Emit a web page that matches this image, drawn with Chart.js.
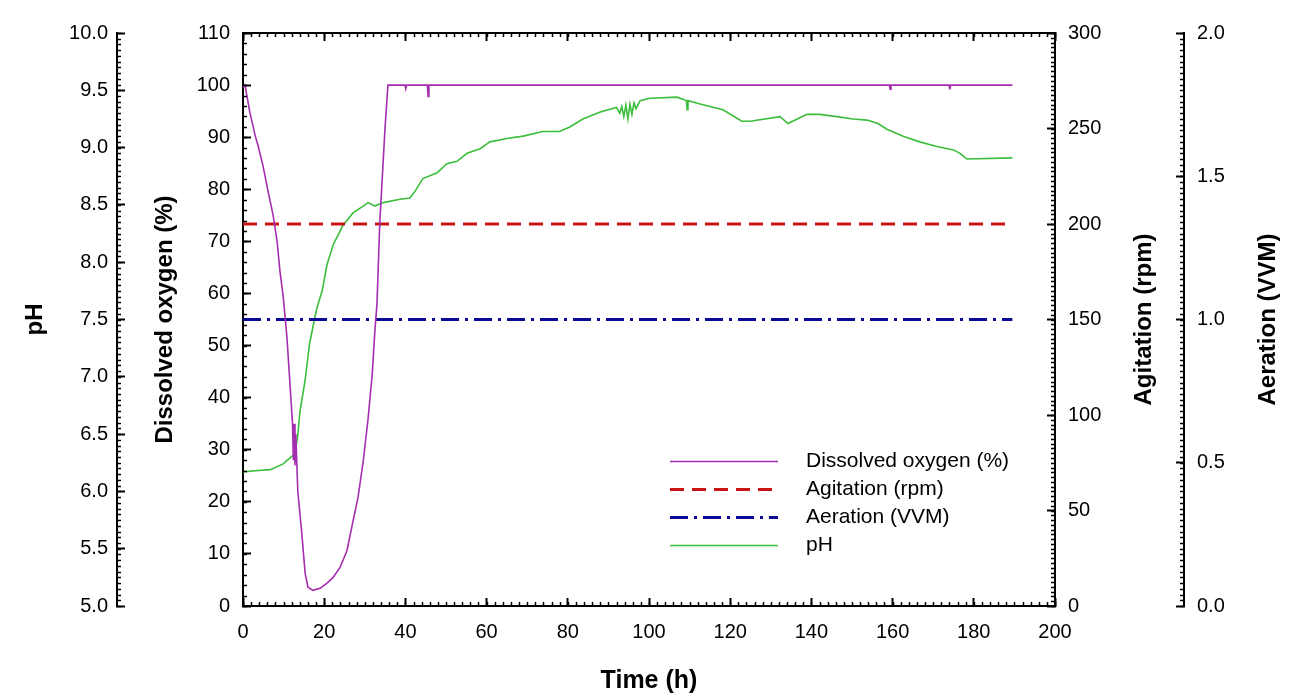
<!DOCTYPE html>
<html>
<head>
<meta charset="utf-8">
<script src="https://cdn.jsdelivr.net/npm/chart.js@4.4.1/dist/chart.umd.min.js"></script>
<style>
  html, body { margin: 0; padding: 0; background: #fff; }
  #myChart { display: block; }
</style>
</head>
<body>
<canvas id="myChart" width="1291" height="696"></canvas>
<script>
// dissolved oxygen (%)
const doTime = [0, 0.5, 1.7, 3, 3.7, 4.9, 6.2, 7.4, 8.4, 9.1, 9.9, 10.8, 11.6, 12.2, 12.4, 12.6, 12.8, 13.0, 13.5, 14.5,
  15.3, 16, 17.2, 19, 20.7, 22.2, 23.9, 25.6, 27.1, 28.3, 29.6, 30.8, 31.8, 32.5, 33, 33.7, 35, 35.7, 39.9, 40.1,
  40.3, 45.4, 45.6, 45.8, 159.2, 159.4, 159.6, 173.9, 174.1, 174.3, 189.5];
const doValues = [99.5, 100, 94.7, 90.3, 88.4, 84.6, 79.5, 75.1, 70, 64.3, 59.4, 51.8, 42.3, 35, 28, 35, 27, 33, 22, 13.8,
  6.3, 3.6, 3, 3.4, 4.4, 5.5, 7.4, 10.6, 16.3, 20.7, 27.7, 35.9, 44.2, 53, 58, 73.8, 92, 100, 100, 99.3,
  100, 100, 97.8, 100, 100, 99.2, 100, 100, 99.2, 100, 100];

// pH
const phTime = [0, 3, 6.7, 9.9, 11.5, 12.8, 13.5, 14, 15.3, 16.4, 17.6, 18.2, 19.5, 20.7, 22.2, 24.6, 27.1, 29.6, 30.8, 32.5,
  34.5, 38.7, 41.1, 42.4, 44.3, 47.8, 50.2, 52.7, 55.2, 58.4, 60.8, 65, 69, 73.9, 78, 80.5, 83.7, 88, 92, 92.8,
  93.3, 93.8, 94.3, 94.8, 95.3, 95.8, 96.3, 96.8, 97.8, 100.2, 106.9, 109.2, 109.4, 109.6, 112.6, 118.2, 122.9, 124.9, 132.3, 134.2,
  136.5, 138.9, 142, 146.3, 150.2, 153.7, 156.4, 158.6, 162.6, 166.7, 170.9, 175, 176.6, 178.3, 189.5];
const phValues = [6.17, 6.18, 6.19, 6.24, 6.29, 6.33, 6.49, 6.69, 6.97, 7.29, 7.5, 7.6, 7.75, 7.98, 8.15, 8.32, 8.43, 8.49, 8.52, 8.49,
  8.52, 8.55, 8.56, 8.62, 8.73, 8.78, 8.86, 8.88, 8.95, 8.99, 9.05, 9.08, 9.10, 9.14, 9.14, 9.18, 9.25, 9.31, 9.35, 9.30,
  9.36, 9.27, 9.37, 9.25, 9.38, 9.29, 9.39, 9.34, 9.41, 9.43, 9.44, 9.41, 9.33, 9.41, 9.38, 9.33, 9.23, 9.23, 9.27, 9.21,
  9.25, 9.29, 9.29, 9.27, 9.25, 9.24, 9.21, 9.16, 9.10, 9.05, 9.01, 8.98, 8.95, 8.90, 8.91];

// agitation (rpm) and aeration (VVM) are constant
const agitTime = [0, 189.5];
const agitValues = [200, 200];
const aerTime = [0, 189.5];
const aerValues = [1.0, 1.0];

const seriesNames = ['Dissolved oxygen (%)', 'Agitation (rpm)', 'Aeration (VVM)', 'pH'];

const fontFam = '"Liberation Sans", Arial, sans-serif';

function toPoints(xs, ys) {
  return xs.map((x, i) => ({ x: x, y: ys[i] }));
}

// small ticks between the labelled ones
const minorSteps = { x: 2, x2: 2, yDO: 2, yPH: 0.05, yAgit: 2.5, yAer: 0.02 };

const minorTicks = {
  id: 'minorTicks',
  afterDraw(chart) {
    const ctx = chart.ctx;
    ctx.save();
    ctx.strokeStyle = '#000';
    ctx.lineWidth = 1.5;
    Object.keys(minorSteps).forEach(id => {
      const s = chart.scales[id];
      const step = minorSteps[id];
      const n = Math.round((s.max - s.min) / step);
      ctx.beginPath();
      for (let i = 0; i <= n; i++) {
        const p = Math.round(s.getPixelForValue(s.min + i * step)) + 0.5;
        if (s.position === 'bottom') { ctx.moveTo(p, s.top); ctx.lineTo(p, s.top - 4); }
        else if (s.position === 'top') { ctx.moveTo(p, s.bottom); ctx.lineTo(p, s.bottom + 4); }
        else if (s.position === 'left') { ctx.moveTo(s.right, p); ctx.lineTo(s.right + 4, p); }
        else { ctx.moveTo(s.left, p); ctx.lineTo(s.left - 4, p); }
      }
      ctx.stroke();
    });
    ctx.restore();
  }
};

// right hand titles read bottom to top like the left ones
const rightTitles = {
  id: 'rightTitles',
  afterDraw(chart, args, opts) {
    const ctx = chart.ctx;
    opts.items.forEach(item => {
      const s = chart.scales[item.axis];
      ctx.save();
      ctx.translate(s.left + item.offset, (s.top + s.bottom) / 2);
      ctx.rotate(-Math.PI / 2);
      ctx.font = 'bold 24px ' + fontFam;
      ctx.textAlign = 'center';
      ctx.textBaseline = 'middle';
      ctx.fillStyle = '#000';
      ctx.fillText(s.options.title.text, 0, 0);
      ctx.restore();
    });
  }
};

// put the legend inside the plot, lower right
const legendSpot = {
  id: 'legendSpot',
  afterLayout(chart, args, opts) {
    const lg = chart.legend;
    const h = lg.height;
    lg.left = opts.left;
    lg.top = opts.top;
    lg.right = opts.left + lg.width;
    lg.bottom = opts.top + h;
  }
};

function yAxis(pos, weight, min, max, step, pad, width, title, titlePad, fmt) {
  return {
    type: 'linear',
    position: pos,
    weight: weight,
    min: min,
    max: max,
    border: { display: true, color: '#000', width: 2 },
    grid: { drawOnChartArea: false, drawTicks: true, tickLength: -8, tickWidth: 2, tickColor: '#000' },
    ticks: {
      stepSize: step,
      autoSkip: false,
      padding: pad,
      color: '#000',
      font: { family: fontFam, size: 20 },
      callback: fmt
    },
    title: {
      display: pos === 'left',
      text: title,
      color: '#000',
      padding: { top: titlePad, bottom: 0 },
      font: { family: fontFam, size: 24, weight: 'bold' }
    },
    afterFit: function (s) { s.width = width; }
  };
}

const data = {
  datasets: [{
    label: '   ' + seriesNames[0],
    data: toPoints(doTime, doValues),
    yAxisID: 'yDO',
    borderColor: 'rgb(165, 45, 175)',
    borderWidth: 1.6,
    pointRadius: 0,
    tension: 0
  }, {
    label: '   ' + seriesNames[1],
    data: toPoints(agitTime, agitValues),
    yAxisID: 'yAgit',
    borderColor: 'rgb(200, 20, 20)',
    borderWidth: 3,
    borderDash: [14, 8],
    pointRadius: 0
  }, {
    label: '   ' + seriesNames[2],
    data: toPoints(aerTime, aerValues),
    yAxisID: 'yAer',
    borderColor: 'rgb(10, 10, 150)',
    borderWidth: 3,
    borderDash: [18, 6, 3, 6],
    pointRadius: 0
  }, {
    label: '   ' + seriesNames[3],
    data: toPoints(phTime, phValues),
    yAxisID: 'yPH',
    borderColor: 'rgb(60, 190, 60)',
    borderWidth: 1.6,
    pointRadius: 0,
    tension: 0
  }]
};

const config = {
  type: 'line',
  data: data,
  options: {
    responsive: false,
    animation: false,
    layout: { padding: { left: 17, right: 5, top: 26, bottom: 0 } },
    plugins: {
      tooltip: { enabled: false },
      legend: {
        position: 'chartArea',
        align: 'start',
        labels: {
          usePointStyle: true,
          pointStyle: 'line',
          pointStyleWidth: 108,
          boxHeight: 21,
          padding: 7,
          color: '#000',
          font: { family: fontFam, size: 21 },
          // point style drops the dash, so take it from the dataset
          generateLabels: function (chart) {
            const items = Chart.defaults.plugins.legend.labels.generateLabels(chart);
            items.forEach(it => {
              const ds = chart.data.datasets[it.datasetIndex];
              it.lineDash = ds.borderDash || [];
              it.lineWidth = ds.borderWidth;
            });
            return items;
          }
        }
      },
      legendSpot: { left: 663, top: 444 },
      rightTitles: { items: [{ axis: 'yAgit', offset: 89 }, { axis: 'yAer', offset: 84 }] }
    },
    scales: {
      x: {
        type: 'linear',
        position: 'bottom',
        min: 0,
        max: 200,
        border: { display: true, color: '#000', width: 2 },
        grid: { drawOnChartArea: false, tickLength: -8, tickWidth: 2, tickColor: '#000' },
        ticks: { stepSize: 20, autoSkip: false, maxRotation: 0, padding: 22, color: '#000',
          font: { family: fontFam, size: 20 } },
        title: { display: true, text: 'Time (h)', color: '#000', padding: { top: 0, bottom: 0 },
          font: { family: fontFam, size: 25, weight: 'bold' } },
        afterFit: function (s) { s.height = 90; }
      },
      x2: {
        type: 'linear',
        position: 'top',
        min: 0,
        max: 200,
        border: { display: true, color: '#000', width: 2 },
        grid: { drawOnChartArea: false, tickLength: -8, tickWidth: 2, tickColor: '#000' },
        ticks: { stepSize: 20, display: false },
        afterFit: function (s) { s.height = 0; }
      },
      yDO: yAxis('left', 0, 0, 110, 10, 21, 126, 'Dissolved oxygen (%)', 34, v => v),
      yPH: yAxis('left', 1, 5, 10, 0.5, 17, 100, 'pH', 4, v => v.toFixed(1)),
      yAgit: yAxis('right', 0, 0, 300, 50, 21, 129, 'Agitation (rpm)', 0, v => v),
      yAer: yAxis('right', 1, 0, 2, 0.5, 21, 102, 'Aeration (VVM)', 0, v => v.toFixed(1))
    }
  },
  plugins: [minorTicks, rightTitles, legendSpot]
};

const myChart = new Chart(document.getElementById('myChart'), config);
</script>
</body>
</html>
